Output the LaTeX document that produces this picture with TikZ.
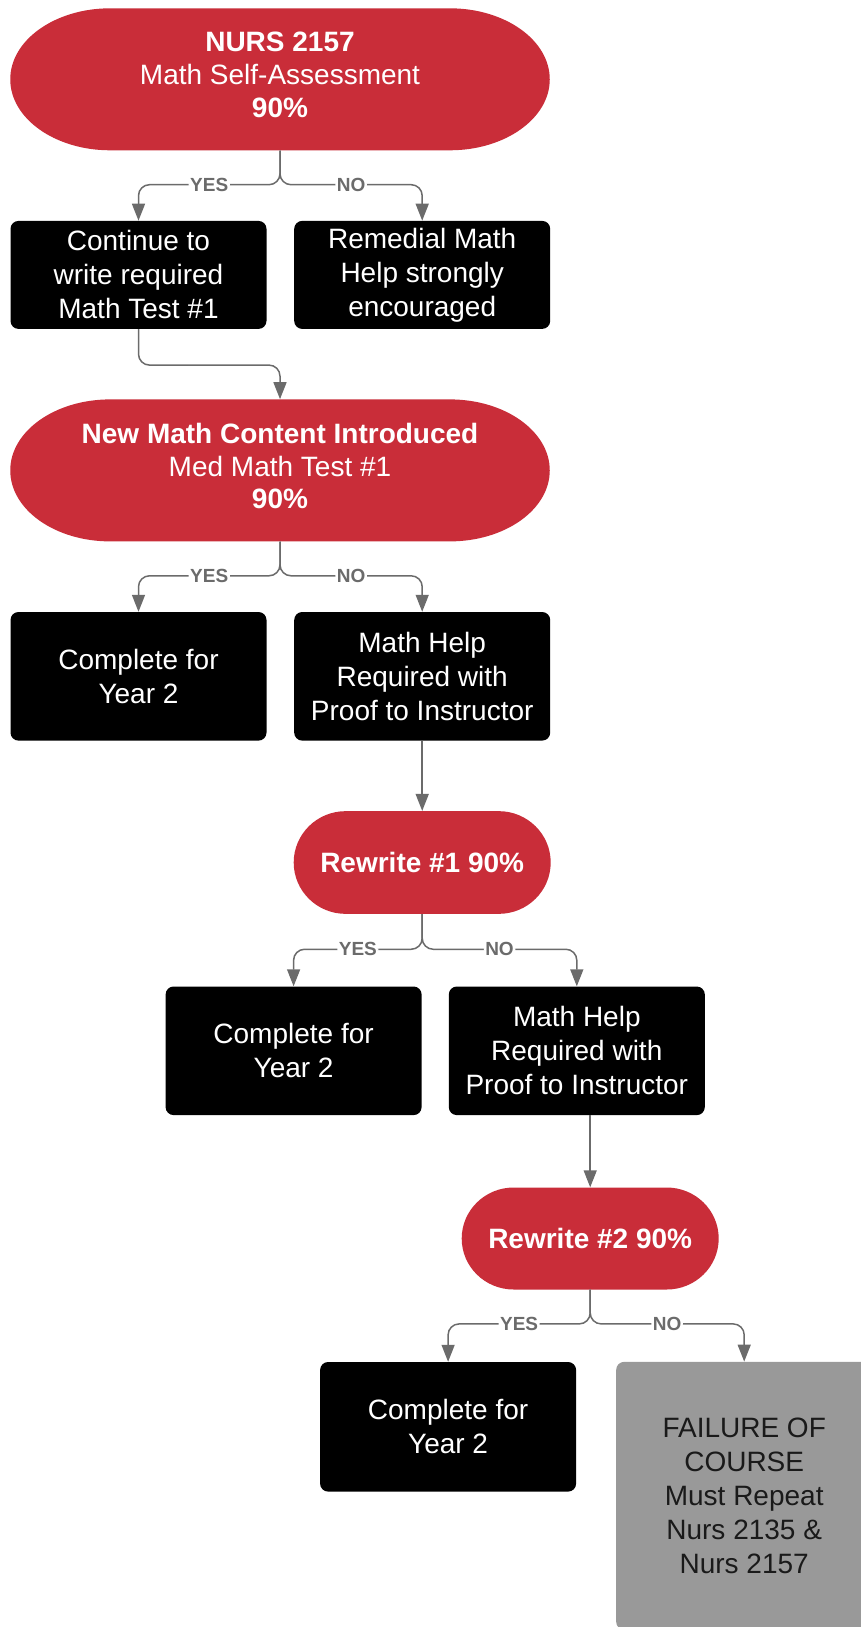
\documentclass[tikz,border=0pt]{standalone}
\usepackage{fontspec}
\setmainfont{Liberation Sans}
\usetikzlibrary{arrows.meta}
\definecolor{nred}{HTML}{C92D39}
\definecolor{ngray}{HTML}{999999}
\definecolor{lgray}{HTML}{6B6B6B}
\definecolor{dtext}{HTML}{1A1A1A}
\tikzset{
  base/.style={inner sep=0pt, align=center, font=\fontsize{28}{34}\selectfont, text=white},
  blackbox/.style={base, fill=black, rounded corners=8pt, minimum width=256pt, minimum height=#1},
  graybox/.style={base, fill=ngray, text=dtext, rounded corners=8pt, minimum width=256pt, minimum height=#1},
  stadium/.style n args={4}{base, fill=white, minimum width=#1, minimum height=#2,
    path picture={\fill[nred] ([xshift=#3]path picture bounding box.north west)
      -- ([xshift=-#3]path picture bounding box.north east)
      arc[start angle=90, end angle=-90, x radius=#3, y radius=#4]
      -- ([xshift=#3]path picture bounding box.south west)
      arc[start angle=270, end angle=90, x radius=#3, y radius=#4] -- cycle;}},
  bigterm/.style={stadium={539.5pt}{142pt}{100pt}{71pt}, font=\fontsize{28}{32.7}\selectfont, text depth=9pt},
  conn/.style={draw=lgray, line width=1.5pt, rounded corners=11pt, -{Triangle[length=17pt,width=13pt]}},
  lbl/.style={fill=white, text=lgray, inner sep=1.5pt, font=\bfseries\fontsize{19}{19}\selectfont}
}
\begin{document}
\begin{tikzpicture}[x=1pt,y=1pt]
\path[use as bounding box, clip] (0,0) rectangle (861,-1627);

\node[bigterm] (e1) at (280,-79.3)
  {\textbf{NURS 2157}\\Math Self-Assessment\\\textbf{90\%}};
\node[blackbox=108pt] (b1) at (138.5,-274.9) {Continue to\\write required\\Math Test \#1};
\node[blackbox=108pt] (b2) at (422.2,-274.9) {Remedial Math\\Help strongly\\encouraged};

\node[bigterm] (e2) at (280,-470.4)
  {\textbf{New Math Content Introduced}\\Med Math Test \#1\\\textbf{90\%}};
\node[blackbox=128.6pt] (b3) at (138.5,-676.3) {Complete for\\Year 2};
\node[blackbox=128.6pt] (b4) at (422.2,-676.3) {Math Help\\Required with\\Proof to Instructor};

\node[stadium={257pt}{102.7pt}{52pt}{51.35pt}] (r1) at (422.2,-862.5) {\textbf{Rewrite \#1 90\%}};
\node[blackbox=128.6pt] (b5) at (293.6,-1050.8) {Complete for\\Year 2};
\node[blackbox=128.6pt] (b6) at (576.8,-1050.8) {Math Help\\Required with\\Proof to Instructor};

\node[stadium={257pt}{102pt}{52pt}{51pt}] (r2) at (590.2,-1238.5) {\textbf{Rewrite \#2 90\%}};
\node[blackbox=129.6pt] (b7) at (448.1,-1426.8) {Complete for\\Year 2};
\node[graybox=268pt] (b8) at (744.2,-1495.8) {FAILURE OF\\COURSE\\Must Repeat\\Nurs 2135 \&\\Nurs 2157};

\draw[conn] (e1.south) -- ++(0,-34.2) -| node[lbl,pos=0.25]{YES} (b1.north);
\draw[conn] (e1.south) -- ++(0,-34.2) -| node[lbl,pos=0.25]{NO} (b2.north);
\draw[conn] (b1.south) -- ++(0,-36) -| (e2.north);
\draw[conn] (e2.south) -- ++(0,-34.2) -| node[lbl,pos=0.25]{YES} (b3.north);
\draw[conn] (e2.south) -- ++(0,-34.2) -| node[lbl,pos=0.25]{NO} (b4.north);
\draw[conn] (b4.south) -- (r1.north);
\draw[conn] (r1.south) -- ++(0,-35.2) -| node[lbl,pos=0.25]{YES} (b5.north);
\draw[conn] (r1.south) -- ++(0,-35.2) -| node[lbl,pos=0.25]{NO} (b6.north);
\draw[conn] (b6.south -| r2.north) -- (r2.north);
\draw[conn] (r2.south) -- ++(0,-34.2) -| node[lbl,pos=0.25]{YES} (b7.north);
\draw[conn] (r2.south) -- ++(0,-34.2) -| node[lbl,pos=0.25]{NO} (b8.north);
\end{tikzpicture}
\end{document}
